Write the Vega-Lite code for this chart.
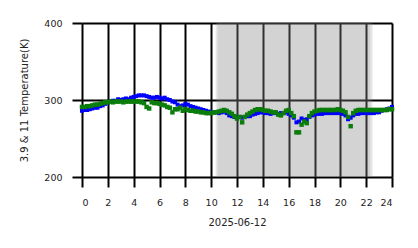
{
  "$schema": "https://vega.github.io/schema/vega-lite/v6.json",
  "width": 310,
  "height": 154,
  "autosize": "none",
  "padding": {"left": 82, "top": 23, "right": 26, "bottom": 71},
  "background": "white",
  "config": {
    "view": {"stroke": null},
    "font": "DejaVu Sans",
    "axis": {
      "grid": true, "gridColor": "black", "gridWidth": 2, "gridOpacity": 1,
      "tickColor": "black", "tickWidth": 2, "tickSize": 10, "tickOpacity": 1,
      "domain": false,
      "labelFont": "DejaVu Sans", "labelFontSize": 9.5, "labelColor": "#222",
      "titleFont": "DejaVu Sans", "titleFontSize": 10, "titleFontWeight": "normal", "titleColor": "#222",
      "zindex": 1
    }
  },
  "datasets": {
    "shade": [{"s": 10.35, "e": 22.5}, {"s": 10.5, "e": 22.32}],
    "temps": [
      {"h":0.0,"b":286,"g":291},{"h":0.2,"b":287,"g":291},{"h":0.4,"b":287,"g":292},{"h":0.6,"b":288,"g":292},{"h":0.8,"b":289,"g":293},
      {"h":1.0,"b":290,"g":294},{"h":1.2,"b":290,"g":294},{"h":1.4,"b":292,"g":295},{"h":1.6,"b":293,"g":296},{"h":1.8,"b":295,"g":297},
      {"h":2.0,"b":297,"g":297},{"h":2.2,"b":298,"g":298},{"h":2.4,"b":299,"g":297},{"h":2.6,"b":299,"g":298},{"h":2.8,"b":301,"g":298},
      {"h":3.0,"b":300,"g":298},{"h":3.2,"b":301,"g":297},{"h":3.4,"b":302,"g":298},{"h":3.6,"b":301,"g":298},{"h":3.8,"b":303,"g":298},
      {"h":4.0,"b":304,"g":298},{"h":4.2,"b":305,"g":298},{"h":4.4,"b":306,"g":298},{"h":4.6,"b":306,"g":297},{"h":4.8,"b":306,"g":296},
      {"h":5.0,"b":305,"g":291},{"h":5.2,"b":304,"g":289},{"h":5.4,"b":303,"g":297},{"h":5.6,"b":303,"g":296},{"h":5.8,"b":304,"g":296},
      {"h":6.0,"b":303,"g":295},{"h":6.2,"b":302,"g":294},{"h":6.4,"b":303,"g":293},{"h":6.6,"b":301,"g":291},{"h":6.8,"b":300,"g":290},
      {"h":7.0,"b":298,"g":284},{"h":7.2,"b":297,"g":288},{"h":7.4,"b":294,"g":288},{"h":7.6,"b":292,"g":290},{"h":7.8,"b":293,"g":286},
      {"h":8.0,"b":295,"g":288},{"h":8.2,"b":294,"g":287},{"h":8.4,"b":292,"g":286},{"h":8.6,"b":291,"g":286},{"h":8.8,"b":290,"g":285},
      {"h":9.0,"b":289,"g":285},{"h":9.2,"b":288,"g":284},{"h":9.4,"b":287,"g":284},{"h":9.6,"b":286,"g":283},{"h":9.8,"b":285,"g":283},
      {"h":10.0,"b":284,"g":283},{"h":10.2,"b":284,"g":284},{"h":10.4,"b":284,"g":284},{"h":10.6,"b":283,"g":285},{"h":10.8,"b":284,"g":286},
      {"h":11.0,"b":285,"g":287},{"h":11.2,"b":283,"g":286},{"h":11.4,"b":280,"g":284},{"h":11.6,"b":279,"g":282},{"h":11.8,"b":278,"g":279},
      {"h":12.0,"b":277,"g":276},{"h":12.2,"b":278,"g":278},{"h":12.4,"b":277,"g":271},{"h":12.6,"b":278,"g":278},{"h":12.8,"b":279,"g":281},
      {"h":13.0,"b":279,"g":283},{"h":13.2,"b":281,"g":285},{"h":13.4,"b":282,"g":287},{"h":13.6,"b":283,"g":288},{"h":13.8,"b":284,"g":288},
      {"h":14.0,"b":284,"g":287},{"h":14.2,"b":283,"g":286},{"h":14.4,"b":283,"g":286},{"h":14.6,"b":282,"g":285},{"h":14.8,"b":283,"g":284},
      {"h":15.0,"b":283,"g":284},{"h":15.2,"b":282,"g":281},{"h":15.4,"b":283,"g":280},{"h":15.6,"b":283,"g":283},{"h":15.8,"b":284,"g":286},
      {"h":16.0,"b":282,"g":287},{"h":16.2,"b":280,"g":283},{"h":16.4,"b":277,"g":279},{"h":16.6,"b":271,"g":258},{"h":16.8,"b":272,"g":258},
      {"h":17.0,"b":276,"g":268},{"h":17.2,"b":274,"g":272},{"h":17.4,"b":275,"g":270},{"h":17.6,"b":278,"g":279},{"h":17.8,"b":280,"g":283},
      {"h":18.0,"b":281,"g":285},{"h":18.2,"b":282,"g":286},{"h":18.4,"b":282,"g":287},{"h":18.6,"b":282,"g":287},{"h":18.8,"b":283,"g":287},
      {"h":19.0,"b":283,"g":287},{"h":19.2,"b":283,"g":287},{"h":19.4,"b":283,"g":287},{"h":19.6,"b":283,"g":287},{"h":19.8,"b":283,"g":288},
      {"h":20.0,"b":283,"g":287},{"h":20.2,"b":282,"g":286},{"h":20.4,"b":280,"g":284},{"h":20.6,"b":275,"g":278},{"h":20.8,"b":277,"g":266},
      {"h":21.0,"b":280,"g":283},{"h":21.2,"b":282,"g":286},{"h":21.4,"b":282,"g":287},{"h":21.6,"b":283,"g":287},{"h":21.8,"b":283,"g":287},
      {"h":22.0,"b":283,"g":287},{"h":22.2,"b":283,"g":287},{"h":22.4,"b":283,"g":287},{"h":22.6,"b":283,"g":287},{"h":22.8,"b":284,"g":287},
      {"h":23.0,"b":284,"g":287},{"h":23.2,"b":286,"g":287},{"h":23.4,"b":287,"g":287},{"h":23.6,"b":288,"g":287},{"h":23.8,"b":289,"g":288},
      {"h":24.0,"b":291,"g":288}
    ]
  },
  "layer": [
    {
      "data": {"name": "shade"},
      "mark": {"type": "rect", "fill": "#888888", "opacity": 0.2},
      "encoding": {
        "x": {"field": "s", "type": "quantitative", "scale": {"domain": [0, 24], "nice": false}},
        "x2": {"field": "e"},
        "y": {"datum": 200, "type": "quantitative"},
        "y2": {"datum": 400}
      }
    },
    {
      "data": {"name": "temps"},
      "mark": {"type": "square", "color": "#0000ff", "size": 16, "opacity": 1},
      "encoding": {
        "x": {"field": "h", "type": "quantitative"},
        "y": {"field": "b", "type": "quantitative"}
      }
    },
    {
      "data": {"name": "temps"},
      "mark": {"type": "square", "color": "#0a7d0a", "size": 20, "opacity": 1},
      "encoding": {
        "x": {"field": "h", "type": "quantitative"},
        "y": {"field": "g", "type": "quantitative"}
      }
    }
  ],
  "encoding": {
    "x": {
      "type": "quantitative",
      "scale": {"domain": [0, 24], "nice": false, "zero": false},
      "axis": {"values": [0,2,4,6,8,10,12,14,16,18,20,22,24], "title": "2025-06-12", "titlePadding": 11, "labelPadding": 10, "format": "d"}
    },
    "y": {
      "type": "quantitative",
      "scale": {"domain": [200, 400], "nice": false, "zero": false},
      "axis": {"values": [200, 300, 400], "title": "3.9 & 11 Temperature(K)", "titlePadding": 14, "labelPadding": 10}
    }
  }
}
